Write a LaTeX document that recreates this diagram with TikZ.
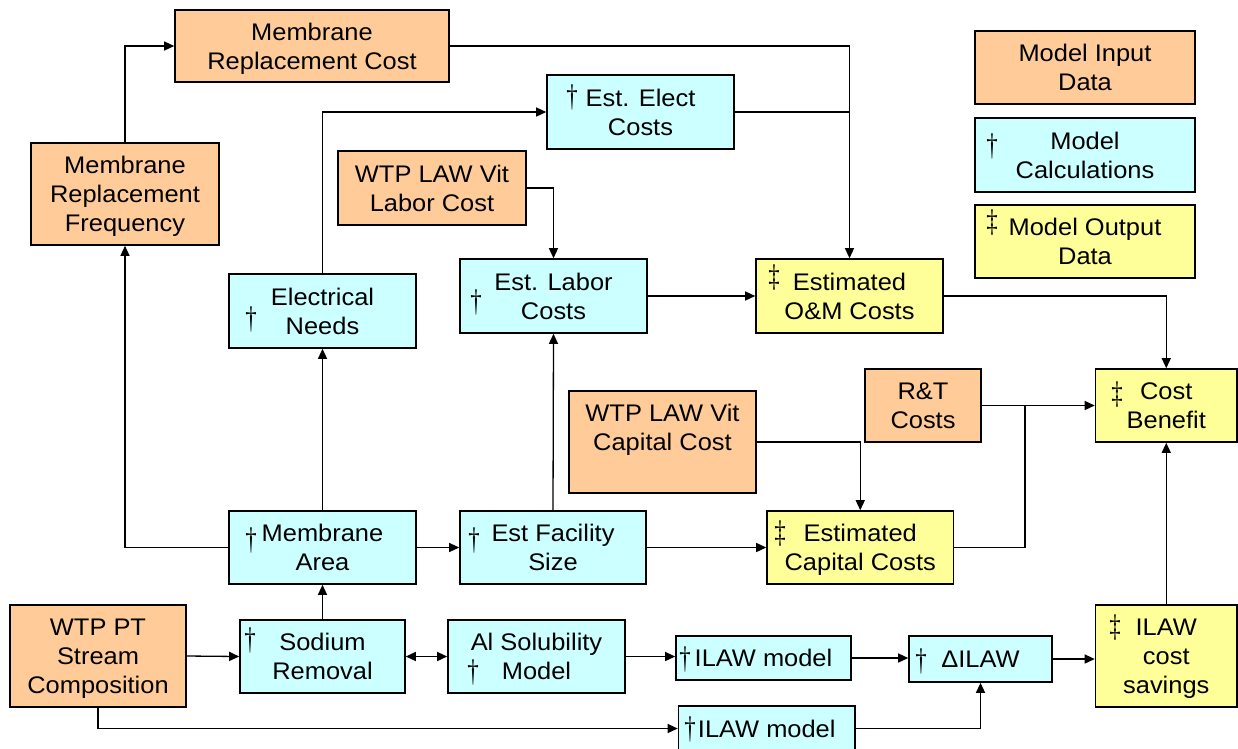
\documentclass[tikz,border=0pt]{standalone}
\usepackage{fontspec}
\setmainfont{Liberation Sans}[FakeStretch=1.06]
\newfontfamily\dagfont{Liberation Serif}
\usetikzlibrary{arrows.meta,calc}
\definecolor{inp}{HTML}{FFCC99}
\definecolor{calcc}{HTML}{CCFFFF}
\definecolor{outp}{HTML}{FFFF99}
\newcommand\tallmark[1]{\scalebox{0.95}[1.3]{#1}}
\tikzset{
  box/.style={draw=black, line width=1.6pt, align=center, inner sep=0pt, text depth=0pt,
    font=\fontsize{24}{29}\selectfont},
  inbox/.style={box, fill=inp},
  calcbox/.style={box, fill=calcc},
  outbox/.style={box, fill=outp},
  dag/.style={inner sep=0pt, font=\dagfont\fontsize{24}{29}\selectfont},
  conn/.style={line width=1.3pt, -{Triangle[length=10pt,width=9pt]}},
  plain/.style={line width=1.3pt},
  both/.style={line width=1.3pt, {Triangle[length=10pt,width=9pt]}-{Triangle[length=10pt,width=9pt]}},
}
\begin{document}
\begin{tikzpicture}[x=1pt,y=-1pt]
\useasboundingbox (0,0) rectangle (1238,748);
\clip (0,0) rectangle (1238,748);
% input boxes
\node[inbox, minimum width=274pt, minimum height=72pt] (mrc) at (312,46) {Membrane\\Replacement Cost};
\node[inbox, minimum width=188pt, minimum height=102pt] (mrf) at (125,194) {Membrane\\Replacement\\Frequency};
\node[inbox, minimum width=188pt, minimum height=74pt] (lab) at (432,188) {WTP LAW Vit\\Labor Cost};
\node[inbox, minimum width=187pt, minimum height=102pt] (lcap) at (662.5,442) {WTP LAW Vit\\Capital Cost\\~};
\node[inbox, minimum width=116pt, minimum height=73pt] (rt) at (923,405.5) {R\&T\\Costs};
\node[inbox, minimum width=176pt, minimum height=102pt] (wpt) at (98,656) {WTP PT\\Stream\\Composition};
% legend
\node[inbox, minimum width=220pt, minimum height=73pt] (leg1) at (1085,67.5) {Model Input\\Data};
\node[calcbox, minimum width=220pt, minimum height=74pt] (leg2) at (1085,155) {Model\\Calculations};
\node[outbox, minimum width=220pt, minimum height=73pt] (leg3) at (1085,241.5) {Model Output\\Data};
% calculation boxes
\node[calcbox, minimum width=187pt, minimum height=74pt] (eec) at (640.5,112) {Est. Elect\\Costs};
\node[calcbox, minimum width=187pt, minimum height=74pt] (elc) at (553.5,296) {Est. Labor\\Costs};
\node[calcbox, minimum width=187pt, minimum height=74pt] (en) at (322.5,311) {Electrical\\Needs};
\node[calcbox, minimum width=187pt, minimum height=73pt] (ma) at (322.5,547.5) {Membrane\\Area};
\node[calcbox, minimum width=186pt, minimum height=73pt] (efs) at (553,547.5) {Est Facility\\Size};
\node[calcbox, minimum width=165pt, minimum height=73pt] (sr) at (322.5,656.5) {Sodium\\Removal};
\node[calcbox, minimum width=177pt, minimum height=73pt] (als) at (536.5,656.5) {Al Solubility\\Model};
\node[calcbox, minimum width=175pt, minimum height=44pt] (il1) at (763.5,658) {ILAW model};
\node[calcbox, minimum width=143pt, minimum height=46pt] (dil) at (980.5,659) {ΔILAW};
\node[calcbox, minimum width=176.5pt, minimum height=45pt] (il2) at (766.75,728.5) {ILAW model};
% output boxes
\node[outbox, minimum width=187pt, minimum height=74pt] (om) at (849.5,296) {Estimated\\O\&M Costs};
\node[outbox, minimum width=186.5pt, minimum height=73pt] (ecc) at (860.25,547.5) {Estimated\\Capital Costs};
\node[outbox, minimum width=141.5pt, minimum height=73pt] (cb) at (1166.25,405.5) {Cost\\Benefit};
\node[outbox, minimum width=141.5pt, minimum height=102pt] (ics) at (1166.25,656) {ILAW\\cost\\savings};
% daggers
\node[dag] (d1) at (572,97) {\tallmark{†}};
\node[dag] (d2) at (476,302) {\tallmark{†}};
\node[dag] (d3) at (774,277) {\tallmark{‡}};
\node[dag] (d4) at (992,146) {\tallmark{†}};
\node[dag] (d5) at (992,222) {\tallmark{‡}};
\node[dag] (d6) at (251,319) {\tallmark{†}};
\node[dag] (d7) at (251,540) {\tallmark{†}};
\node[dag] (d8) at (474,540) {\tallmark{†}};
\node[dag] (d9) at (250,640) {\tallmark{†}};
\node[dag] (d10) at (473,672) {\tallmark{†}};
\node[dag] (d11) at (780,533) {\tallmark{‡}};
\node[dag] (d12) at (1117,394) {\tallmark{‡}};
\node[dag] (d13) at (1115,627) {\tallmark{‡}};
\node[dag] (d14) at (685,659) {\tallmark{†}};
\node[dag] (d15) at (921,661) {\tallmark{†}};
\node[dag] (d16) at (690,729) {\tallmark{†}};
% junction
\coordinate (j1) at (1025,405.5);
% connectors
\draw[conn] (mrf.north) |- (mrc.west);
\draw[conn] (ma.west) -| (mrf.south);
\draw[conn] (sr.north) -- (ma.south);
\draw[conn] (ma.north) -- (en.south);
\draw[conn] (en.north) |- (eec.west);
\draw[conn] (ma.east) -- (efs.west);
\draw[conn] (efs.north) -- (elc.south);
\draw[conn] (lab.east) -| (elc.north);
\draw[conn] (elc.east) -- (om.west);
\draw[conn] (mrc.east) -| (om.north);
\draw[plain] (eec.east) -- (eec.east -| om.north);
\draw[conn] (om.east) -| (cb.north);
\draw[conn] (efs.east) -- (ecc.west);
\draw[conn] (lcap.east) -| (ecc.north);
\draw[conn] (rt.east) -- (cb.west);
\draw[plain] (ecc.east) -| (j1);
\draw[conn] (ics.north) -- (cb.south);
\draw[conn] (wpt.east) -- (sr.west);
\draw[both] (sr.east) -- (als.west);
\draw[conn] (als.east) -- (als.east -| il1.west);
\draw[conn] (il1.east) -- (il1.east -| dil.west);
\draw[conn] (dil.east) -- (dil.east -| ics.west);
\draw[conn] (wpt.south) |- (il2.west);
\draw[conn] (il2.east) -| (dil.south);
\end{tikzpicture}
\end{document}
